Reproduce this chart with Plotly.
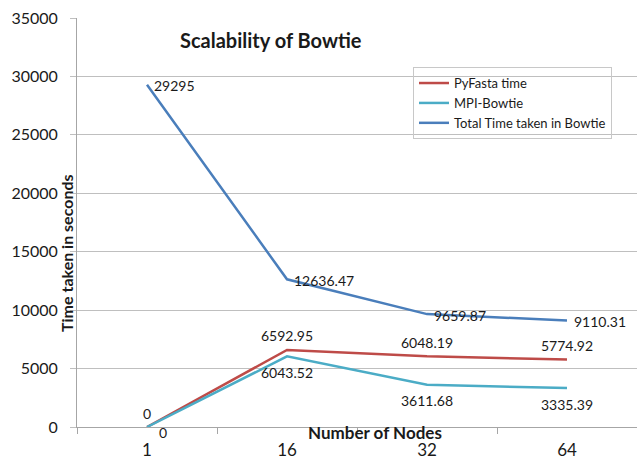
import plotly.graph_objects as go

nodes = ["1", "16", "32", "64"]
pyfasta = [0, 6592.95, 6048.19, 5774.92]
mpi_bowtie = [0, 6043.52, 3611.68, 3335.39]
total = [29295, 12636.47, 9659.87, 9110.31]
y_ticks = [0, 5000, 10000, 15000, 20000, 25000, 30000, 35000]
y_tick_text = ["0", "5000", "10000", "15000", "20000", "25000", "30000", "35000"]

FONT = "Lato"
L, R, T, B = 77, 0, 18, 33
W, H = 637, 460
LBL_FONT = dict(family=FONT, size=14, color="#1a1a1a")

def lbl(v):
    return str(int(v)) if v == int(v) else str(v)

fig = go.Figure()
fig.add_trace(go.Scatter(x=nodes, y=pyfasta, name="PyFasta time", mode="lines",
                         line=dict(color="#BE4B48", width=2.5)))
fig.add_trace(go.Scatter(x=nodes, y=mpi_bowtie, name="MPI-Bowtie", mode="lines",
                         line=dict(color="#4BACC6", width=2.5)))
fig.add_trace(go.Scatter(x=nodes, y=total, name="Total Time taken in Bowtie", mode="lines",
                         line=dict(color="#4A7EBB", width=2.5)))

# data labels (x given as category index of nodes)
for i, yv in enumerate(pyfasta):
    fig.add_annotation(x=i, y=yv, text=lbl(yv), showarrow=False, font=LBL_FONT,
                       xanchor="center", yanchor="middle", yshift=14)
for i, yv in enumerate(mpi_bowtie):
    if i == 0:
        fig.add_annotation(x=i, y=yv, text=lbl(yv), showarrow=False, font=LBL_FONT,
                           xanchor="center", yanchor="middle", xshift=16, yshift=-5)
    else:
        fig.add_annotation(x=i, y=yv, text=lbl(yv), showarrow=False, font=LBL_FONT,
                           xanchor="center", yanchor="middle", yshift=-16)
for i, yv in enumerate(total):
    fig.add_annotation(x=i, y=yv, text=lbl(yv), showarrow=False, font=LBL_FONT,
                       xanchor="left", yanchor="middle", xshift=5, yshift=-1)

fig.update_layout(
    width=W, height=H, margin=dict(l=L, r=R, t=T, b=B),
    paper_bgcolor="white", plot_bgcolor="white",
    font=dict(family=FONT, color="#1a1a1a"),
    showlegend=True,
    legend=dict(x=0.6, y=0.88, xanchor="left", yanchor="top",
                bgcolor="rgba(255,255,255,0)", bordercolor="#C8C8C8", borderwidth=1,
                font=dict(family=FONT, size=13), itemwidth=30),
    xaxis=dict(type="category", range=[-0.5, 3.5], showgrid=False,
               showline=True, linecolor="#A6A6A6", ticks="outside", tickson="boundaries",
               ticklen=6, tickcolor="#A6A6A6", tickfont=dict(family=FONT, size=17),
               ticklabelstandoff=8, zeroline=False),
    yaxis=dict(range=[0, 35000], tickvals=y_ticks, ticktext=y_tick_text,
               showgrid=True, gridcolor="#BFBFBF",
               showline=True, linecolor="#A6A6A6", ticks="outside", ticklen=6,
               tickcolor="#BFBFBF", tickfont=dict(family=FONT, size=16),
               zeroline=False, ticklabelstandoff=9),
)

fig.add_annotation(text="<b>Scalability of Bowtie</b>", xref="paper", yref="paper",
                   x=(271 - L) / (W - L - R), y=(H - B - 40) / (H - T - B),
                   showarrow=False, font=dict(family=FONT, size=20), xanchor="center", yanchor="middle")
fig.add_annotation(text="<b>Time taken in seconds</b>", xref="paper", yref="paper",
                   x=(67 - L) / (W - L - R), y=(H - B - 253) / (H - T - B), textangle=-90,
                   showarrow=False, font=dict(family=FONT, size=16), xanchor="center", yanchor="middle")
fig.add_annotation(text="<b>Number of Nodes</b>", xref="paper", yref="paper",
                   x=(375 - L) / (W - L - R), y=(H - B - 432) / (H - T - B),
                   showarrow=False, font=dict(family=FONT, size=17), xanchor="center", yanchor="middle")

fig.write_html("out.html")
